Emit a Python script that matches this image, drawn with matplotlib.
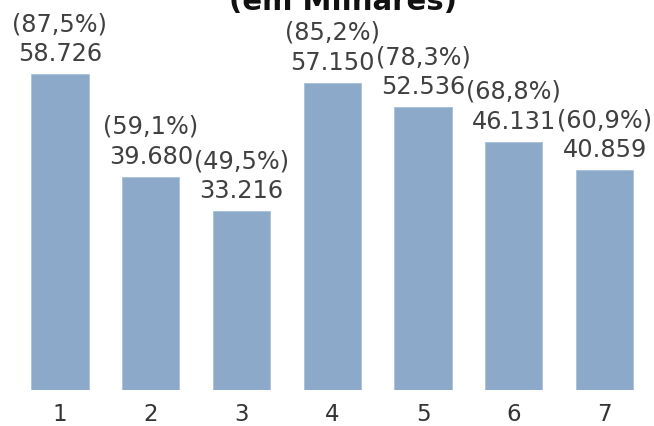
import matplotlib.pyplot as plt

# data (values in thousands)
categories = ["1", "2", "3", "4", "5", "6", "7"]
values = [58.726, 39.680, 33.216, 57.150, 52.536, 46.131, 40.859]
value_labels = ["58.726", "39.680", "33.216", "57.150", "52.536", "46.131", "40.859"]
pct_labels = ["(87,5%)", "(59,1%)", "(49,5%)", "(85,2%)", "(78,3%)", "(68,8%)", "(60,9%)"]

W, H = 654, 426
fig = plt.figure(figsize=(W / 100, H / 100), dpi=100)
ax = fig.add_axes([14.6 / W, 36 / H, (650 - 14.6) / W, 390 / H])

x = range(len(categories))
ax.bar(x, values, width=0.63, color="#8DA9C9", edgecolor="#A9C0DA", linewidth=0.6)

ax.set_xlim(-0.5, len(categories) - 0.5)
ax.set_ylim(0, 72.5)
ax.set_xticks(list(x))
ax.set_xticklabels(categories, fontsize=16.5, color="#333333")
ax.tick_params(axis="x", length=0, pad=9.5)
ax.set_yticks([])
for s in ax.spines.values():
    s.set_visible(False)

for i, v in enumerate(values):
    ax.annotate(value_labels[i], (i, v), xytext=(0, 13), textcoords="offset pixels",
                ha="center", va="baseline", fontsize=17.3, color="#404040")
    ax.annotate(pct_labels[i], (i, v), xytext=(0, 43), textcoords="offset pixels",
                ha="center", va="baseline", fontsize=17.3, color="#404040")

# title is cut off at the top of the image, only the second line shows
fig.text(343 / W, 1 - 10 / H, "(em Milhares)", ha="center", va="baseline",
         fontsize=21, fontweight="bold", color="#111111")

fig.savefig("out.png", dpi=100)
